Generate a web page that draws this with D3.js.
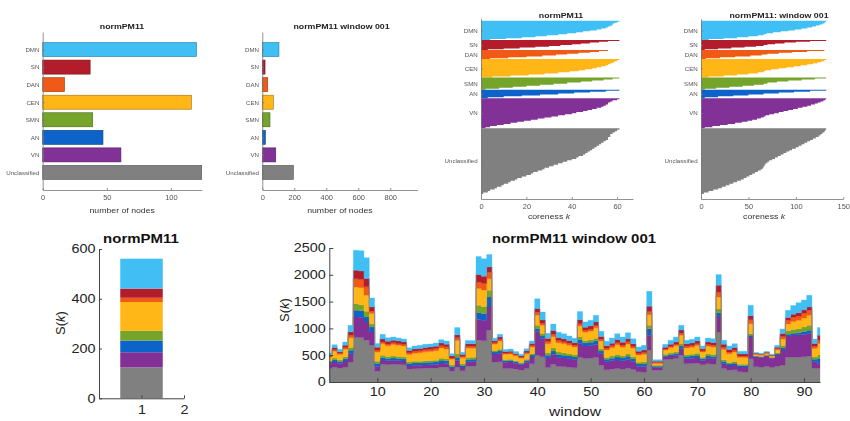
<!DOCTYPE html>
<html>
<head>
<meta charset="utf-8">
<script src="https://cdn.jsdelivr.net/npm/d3@7"></script>
<style>
  html, body { margin: 0; padding: 0; background: #fff; }
  svg { display: block; font-family: "Liberation Sans", Arial, Helvetica, sans-serif; }
</style>
</head>
<body>
<svg id="fig" width="850" height="421"></svg>
<script>
// ---------------- data ----------------
const networks = ["DMN", "SN", "DAN", "CEN", "SMN", "AN", "VN", "Unclassified"];
const networkColors = ["#41bff5", "#b31d2b", "#f15a14", "#ffb617", "#74a42a", "#0c64c9", "#823096", "#808080"];

// nodes per network (whole recording) – also the S(k) stack of the single bar
const nodesAll = [120, 37, 17, 116, 39, 47, 61, 124];
// nodes per network, window 001
const nodesWin = [104, 17, 34, 69, 48, 19, 84, 194];

// rows occupied by each network in the coreness panels
const coreRows = [58, 30, 27, 55, 37, 25, 90, 197];

// sorted coreness profiles (top row of each block first), whole recording
const coreAll = [
  [61, 60, 59, 58, 58, 57, 56, 55, 53, 51, 48, 45, 42, 38, 34, 29, 24, 18, 11, 4],
  [61, 56, 52, 48, 44, 40, 35, 30, 24, 17, 10, 3],
  [56, 52, 48, 43, 38, 33, 27, 20, 12, 4],
  [61, 60, 59, 58, 57, 56, 55, 53, 51, 49, 46, 43, 39, 34, 28, 21, 13, 5],
  [61, 58, 54, 49, 44, 38, 32, 26, 20, 14, 8, 2],
  [61, 55, 48, 41, 34, 26, 18, 10, 3],
  [61, 60, 58, 57, 56, 56, 55, 54, 53, 51, 49, 47, 45, 42, 40, 37, 34, 31, 28, 25, 22, 19, 16, 13, 10, 7, 4, 2],
  [61, 60, 59, 58, 57, 57, 56, 56, 55, 54, 53, 52, 51, 50, 49, 48, 47, 46, 45, 43, 42, 40, 38, 36, 34, 32, 30, 28, 27, 25, 23, 22, 20, 18, 16, 15, 13, 12, 10, 9, 7, 6, 4, 3, 1]
];
// sorted coreness profiles, window 001
const coreWin = [
  [132, 131, 130, 128, 125, 121, 117, 112, 106, 99, 92, 84, 76, 69, 66, 60, 50, 38, 24, 8],
  [132, 115, 100, 88, 78, 70, 66, 58, 46, 32, 18, 4],
  [130, 112, 96, 82, 70, 64, 52, 36, 20, 5],
  [132, 130, 127, 123, 118, 112, 105, 98, 90, 82, 74, 68, 66, 60, 50, 38, 24, 8],
  [132, 120, 106, 92, 80, 70, 66, 56, 44, 30, 16, 4],
  [132, 115, 98, 82, 66, 50, 34, 18, 4],
  [132, 131, 129, 126, 123, 120, 116, 112, 107, 102, 97, 92, 87, 82, 77, 72, 68, 66, 63, 59, 54, 49, 43, 36, 28, 20, 12, 4],
  [132, 131, 130, 128, 126, 124, 121, 118, 115, 112, 109, 106, 103, 100, 96, 93, 90, 87, 84, 81, 78, 75, 72, 70, 68, 67, 66, 65, 63, 60, 57, 54, 51, 48, 45, 42, 38, 34, 30, 26, 22, 18, 13, 8, 3]
];

// S(k) per window, one array per network (windows 1..93)
const skUnclassified = [250,280,262,280,373,840,830,780,684,200,330,320,330,325,320,240,249,250,255,258,262,280,275,200,280,210,300,300,780,770,964,373,380,250,252,240,220,250,342,502,471,270,330,290,285,275,265,467,440,445,455,311,230,240,250,240,255,235,190,187,591,218,220,420,430,440,500,340,345,350,320,340,335,933,250,220,230,190,187,435,285,280,290,270,298,316,460,465,467,472,479,260,254];
const skVN  = [100,95,90,110,156,373,380,340,250,95,80,75,74,72,70,60,62,62,64,64,66,75,72,60,120,70,80,82,385,380,436,150,155,120,120,110,100,120,125,434,340,180,190,170,165,160,155,248,230,235,245,218,150,155,160,155,165,150,100,100,280,56,55,50,55,60,120,95,95,100,80,101,98,280,92,80,85,90,93,405,186,180,195,175,204,280,400,410,416,420,423,120,93];
const skAN  = [23,39,31,43,63,124,120,95,93,51,48,44,44,42,42,42,44,44,45,45,46,50,48,30,62,30,42,42,130,125,186,35,42,28,29,26,24,30,36,62,45,50,60,52,50,48,45,75,60,62,70,50,45,50,58,53,60,50,44,48,124,19,19,25,30,32,55,41,43,47,33,46,45,81,40,34,37,27,27,31,10,9,10,9,20,40,32,35,37,50,62,45,93];
const skSMN = [19,32,26,36,53,125,110,105,62,43,40,37,37,36,35,30,31,31,32,32,33,36,35,25,62,26,36,36,137,135,124,30,36,24,25,22,20,25,30,62,50,45,55,46,45,42,40,50,40,42,48,36,34,38,44,40,45,38,33,36,62,19,18,22,25,28,45,34,36,39,27,38,37,74,35,30,32,23,23,31,8,8,9,8,18,45,62,70,75,82,93,40,62];
const skCEN = [76,129,103,142,180,311,320,300,187,170,215,200,215,210,205,140,150,160,168,170,178,195,188,110,250,115,175,172,311,305,218,120,150,95,98,90,80,100,120,186,155,170,210,175,170,160,148,205,160,168,195,150,140,158,182,165,185,156,135,146,200,31,31,80,100,115,150,126,130,143,100,140,138,218,190,162,174,127,127,186,25,24,27,24,60,120,130,148,155,170,187,160,217];
const skDAN = [17,29,23,32,48,155,150,155,44,38,33,31,31,30,30,36,38,38,38,38,39,40,38,25,50,25,35,35,124,125,125,25,30,22,23,20,18,23,27,62,35,40,50,40,38,36,34,43,35,36,42,32,30,34,39,35,40,34,29,32,60,19,19,20,22,25,40,31,32,35,24,34,34,93,40,34,37,27,27,75,10,9,11,9,22,50,68,78,82,88,93,40,62];
const skSN  = [23,39,31,43,63,156,160,155,81,51,58,55,50,50,48,40,42,42,43,44,45,50,48,35,55,35,45,45,137,135,93,37,45,28,29,26,24,30,36,62,62,55,65,55,52,50,46,75,55,57,65,50,45,50,58,52,58,50,43,47,95,25,25,30,40,45,60,44,46,50,35,49,48,125,55,47,50,37,37,75,11,10,12,10,27,52,52,60,62,62,62,55,93];
const skDMN = [33,54,44,60,121,373,380,390,166,72,85,65,59,56,52,52,56,57,58,58,59,64,61,44,136,44,62,63,336,325,234,45,52,38,39,36,34,42,49,182,147,100,120,100,95,89,82,152,100,105,124,98,86,96,111,100,112,95,81,88,280,30,30,56,75,95,87,66,69,76,53,73,73,201,75,65,70,51,51,193,15,15,16,15,35,87,133,162,186,186,218,80,141];
const windows = d3.range(1, 94);

// axis tick values
const ticksAllNodes = [0, 50, 100];
const ticksWinNodes = [0, 200, 400, 600, 800];
const ticksCoreAll = [0, 20, 40, 60];
const ticksCoreWin = [0, 50, 100, 150];
const ticksSkSingle = [0, 200, 400, 600];
const ticksSkWin = [0, 500, 1000, 1500, 2000, 2500];
const ticksWindow = [10, 20, 30, 40, 50, 60, 70, 80, 90];

// ---------------- drawing ----------------
const svg = d3.select("#fig");
const defs = svg.append("defs");
defs.append("filter").attr("id", "soft").attr("x", "-5%").attr("y", "-5%").attr("width", "110%").attr("height", "110%")
  .append("feGaussianBlur").attr("stdDeviation", 0.5);

const topRow = svg.append("g").attr("filter", "url(#soft)");
const botRow = svg.append("g");
const plain = d3.format("d");

// text with a slight horizontal stretch
function txt(g, x, y, s, o = {}) {
  return g.append("text")
    .attr("transform", `translate(${x},${y}) scale(${o.sx || 1},1)`)
    .attr("text-anchor", o.anchor || "middle")
    .attr("font-size", o.size || 10)
    .attr("font-weight", o.bold ? "bold" : "normal")
    .attr("fill", o.color || "#222")
    .text(s);
}

function styleAxis(ax, o) {
  ax.select(".domain").attr("stroke", o.line).attr("stroke-width", o.lw || 1);
  ax.selectAll(".tick line").attr("stroke", o.line).attr("stroke-width", o.lw || 1);
  ax.selectAll(".tick text")
    .attr("font-size", o.size)
    .attr("fill", o.color)
    .attr("font-family", null)
    .attr("transform", `scale(${o.sx || 1},1)`);
}

// ---- top row: node counts per network ----
function nodeBars(values, xr, maxVal, ticks, title, titleX) {
  const x = d3.scaleLinear().domain([0, maxVal]).range(xr);
  const y = d3.scaleLinear().domain([0, 9]).range([32, 190]);
  const g = topRow.append("g");
  g.selectAll("rect").data(values).join("rect")
    .attr("x", x(0))
    .attr("y", (d, i) => y(i + 1 - 0.4))
    .attr("width", d => x(d) - x(0))
    .attr("height", y(0.8) - y(0))
    .attr("fill", (d, i) => networkColors[i])
    .attr("stroke", (d, i) => d3.color(networkColors[i]).darker(1.3))
    .attr("stroke-width", 0.6);
  const ax = g.append("g").attr("transform", `translate(0,${y(9)})`)
    .call(d3.axisBottom(x).tickValues(ticks).tickFormat(plain).tickSize(-2).tickSizeOuter(0).tickPadding(5));
  styleAxis(ax, { line: "#777", size: 6.5, color: "#555", sx: 1.15, lw: 0.8 });
  const ay = g.append("g").attr("transform", `translate(${x(0)},0)`)
    .call(d3.axisLeft(y).tickValues(d3.range(1, 9)).tickFormat((d, i) => networks[i]).tickSize(-2).tickSizeOuter(0).tickPadding(3));
  styleAxis(ay, { line: "#777", size: 5.6, color: "#555", sx: 1.1, lw: 0.8 });
  txt(g, titleX, 29, title, { size: 8, bold: true, sx: 1.1, color: "#222" });
  txt(g, (xr[0] + xr[1]) / 2, 213, "number of nodes", { size: 7.6, sx: 1.15, color: "#333" });
}
nodeBars(nodesAll, [42.7, 201.7], 124, ticksAllNodes, "normPM11", 122);
nodeBars(nodesWin, [262.3, 417.5], 970, ticksWinNodes, "normPM11 window 001", 341.5);

// ---- top row: sorted coreness per network ----
function corePanel(profiles, xr, maxVal, ticks, title, titleX) {
  const x = d3.scaleLinear().domain([0, maxVal]).range(xr);
  const total = d3.sum(coreRows);
  const y = d3.scaleLinear().domain([-6, total + 15]).range([18.7, 199]);
  const starts = d3.cumsum([0].concat(coreRows)).slice(0, coreRows.length);
  const g = topRow.append("g");
  const area = d3.area().x0(x(0)).x1(d => x(d.v)).y(d => y(d.r));
  profiles.forEach((prof, k) => {
    const step = coreRows[k] / prof.length;
    const pts = [];
    prof.forEach((v, j) => {
      pts.push({ v, r: starts[k] + j * step });
      pts.push({ v, r: starts[k] + (j + 1) * step });
    });
    g.append("path").attr("d", area(pts)).attr("fill", networkColors[k]);
  });
  const ax = g.append("g").attr("transform", `translate(0,${y.range()[1]})`)
    .call(d3.axisBottom(x).tickValues(ticks).tickFormat(plain).tickSize(-2).tickSizeOuter(0).tickPadding(5));
  styleAxis(ax, { line: "#777", size: 6.5, color: "#555", sx: 1.15, lw: 0.8 });
  const centers = coreRows.map((n, k) => starts[k] + n / 2);
  const ay = g.append("g").attr("transform", `translate(${x(0)},0)`)
    .call(d3.axisLeft(y).tickValues(centers).tickFormat((d, i) => networks[i]).tickSize(-2).tickSizeOuter(0).tickPadding(3));
  styleAxis(ay, { line: "#777", size: 5.6, color: "#555", sx: 1.1, lw: 0.8 });
  txt(g, titleX, 18, title, { size: 8, bold: true, sx: 1.1, color: "#222" });
  const lab = txt(g, (xr[0] + xr[1]) / 2 - 8, 219, "coreness  ", { size: 7.6, sx: 1.15, color: "#333" });
  lab.append("tspan").attr("font-style", "italic").text("k");
}
corePanel(coreAll, [481, 633], 67, ticksCoreAll, "normPM11", 561);
corePanel(coreWin, [701, 843.3], 150, ticksCoreWin, "normPM11: window 001", 779);

// S(k) axis label with italic k
function skLabel(g, x, y, size) {
  const t = g.append("text")
    .attr("transform", `translate(${x},${y}) rotate(-90)`)
    .attr("text-anchor", "middle").attr("font-size", size).attr("fill", "#222");
  t.append("tspan").text("S(");
  t.append("tspan").attr("font-style", "italic").text("k");
  t.append("tspan").text(")");
}

// ---- bottom left: single stacked bar ----
{
  const g = botRow.append("g");
  const x = d3.scaleLinear().domain([0, 2]).range([99, 184]);
  const y = d3.scaleLinear().domain([0, 600]).range([398.3, 249]);
  const order = [7, 6, 5, 4, 3, 2, 1, 0]; // stacked from Unclassified upwards
  const tops = d3.cumsum(order.map(k => nodesAll[k]));
  g.selectAll("rect").data(order).join("rect")
    .attr("x", x(0.5)).attr("width", x(1.5) - x(0.5))
    .attr("y", (k, i) => y(tops[i]))
    .attr("height", (k, i) => y(tops[i] - nodesAll[k]) - y(tops[i]))
    .attr("fill", k => networkColors[k]);
  const ax = g.append("g").attr("transform", `translate(0,${y(0)})`)
    .call(d3.axisBottom(x).tickValues([1, 2]).tickFormat(plain).tickSize(-3).tickSizeOuter(0).tickPadding(7));
  styleAxis(ax, { line: "#444", size: 12, color: "#222", sx: 1.2 });
  const ay = g.append("g").attr("transform", `translate(${x(0)},0)`)
    .call(d3.axisLeft(y).tickValues(ticksSkSingle).tickFormat(plain).tickSize(-3).tickSizeOuter(0).tickPadding(3));
  styleAxis(ay, { line: "#444", size: 12, color: "#222", sx: 1.2 });
  txt(g, 141, 243, "normPM11", { size: 12.5, bold: true, sx: 1.2, color: "#111" });
  skLabel(g, 65, 323, 13);
}

// ---- bottom right: S(k) per window, stacked ----
{
  const g = botRow.append("g");
  const x = d3.scaleLinear().domain([1, 93]).range([329.3, 820]);
  const y = d3.scaleLinear().domain([0, 2500]).range([382, 248]);
  const layers = [skUnclassified, skVN, skAN, skSMN, skCEN, skDAN, skSN, skDMN];
  const layerColor = [7, 6, 5, 4, 3, 2, 1, 0].map(k => networkColors[k]);
  const rows = windows.map((w, i) => {
    const o = { w };
    layers.forEach((arr, j) => { o["l" + j] = arr[i]; });
    return o;
  });
  const stack = d3.stack().keys(layers.map((a, j) => "l" + j))(rows);
  const area = d3.area().curve(d3.curveStep)
    .x(d => x(d.data.w)).y0(d => y(d[0])).y1(d => y(d[1]));
  g.selectAll("path.layer").data(stack).join("path")
    .attr("class", "layer")
    .attr("d", area)
    .attr("fill", (d, j) => layerColor[j])
    .attr("stroke", (d, j) => layerColor[j]).attr("stroke-width", 0.3);
  const ax = g.append("g").attr("transform", `translate(0,${y(0)})`)
    .call(d3.axisBottom(x).tickValues(ticksWindow).tickFormat(plain).tickSize(-4).tickSizeOuter(0).tickPadding(5));
  styleAxis(ax, { line: "#444", size: 12, color: "#222", sx: 1.2 });
  const ay = g.append("g").attr("transform", `translate(${x(1)},0)`)
    .call(d3.axisLeft(y).tickValues(ticksSkWin).tickFormat(plain).tickSize(-4).tickSizeOuter(0).tickPadding(3));
  styleAxis(ay, { line: "#444", size: 12, color: "#222", sx: 1.2 });
  txt(g, 574, 243, "normPM11 window 001", { size: 12.5, bold: true, sx: 1.2, color: "#111" });
  txt(g, 575, 416, "window", { size: 13, sx: 1.2, color: "#222" });
  skLabel(g, 289, 310, 13);
}
</script>
</body>
</html>
